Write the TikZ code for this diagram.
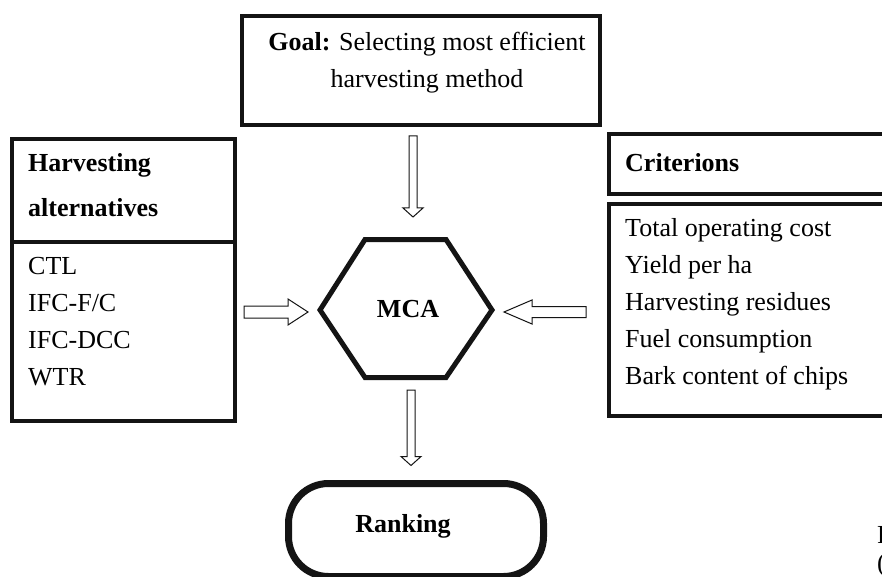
\documentclass[tikz,border=0pt]{standalone}
\usepackage{fontspec}
\setmainfont{Liberation Serif}
\usetikzlibrary{calc, positioning}
\definecolor{ink}{HTML}{141414}

% hollow block arrows: start, tip, shaft half width, head half width, head offset
\newcommand{\varrow}[5]{%
  \draw[blockarrow] ($(#1)+(-#3,0)$) -- ($(#2)+(-#3,#5)$) -- ($(#2)+(-#4,#5)$) -- (#2)
    -- ($(#2)+(#4,#5)$) -- ($(#2)+(#3,#5)$) -- ($(#1)+(#3,0)$) -- cycle;}
\newcommand{\harrow}[5]{%
  \draw[blockarrow] ($(#1)+(0,-#3)$) -- ($(#2)+(#5,-#3)$) -- ($(#2)+(#5,-#4)$) -- (#2)
    -- ($(#2)+(#5,#4)$) -- ($(#2)+(#5,#3)$) -- ($(#1)+(0,#3)$) -- cycle;}

\begin{document}
\begin{tikzpicture}[x=1pt, y=-1pt,
  panel/.style={draw=ink, line width=4pt, inner sep=0pt},
  txt/.style={font=\fontsize{26}{37}\selectfont, inner sep=0pt, align=left},
  hd/.style={txt, font=\fontsize{26}{37}\selectfont\bfseries},
  blockarrow/.style={draw=ink, line width=1pt, fill=white, line join=miter}]

% Background
\useasboundingbox (0,0) rectangle (882,577);
\clip (0,0) rectangle (882,577);
\fill[white] (0,0) rectangle (882,577);

% === Goal ===
\node[panel, minimum width=358pt, minimum height=109pt] (goal) at (421,70.5) {};
\node[txt, align=center] (goaltxt) at (427,63)
  {\textbf{Goal:} Selecting most efficient\\harvesting method};

% === Left: alternatives ===
\node[panel, minimum width=223pt, minimum height=103pt] (altHead) at (123.5,190.5) {};
\node[panel, minimum width=223pt, minimum height=179pt] (altList) at (123.5,331.5) {};
\node[hd, font=\fontsize{26}{45}\selectfont\bfseries, anchor=west] (altHeadTxt) at (28,185)
  {Harvesting\\alternatives};
\node[txt, anchor=west] (altListTxt) at (28,321.5)
  {CTL\\IFC-F/C\\IFC-DCC\\WTR};

% === Right: criteria ===
\node[panel, minimum width=291pt, minimum height=60pt] (critHead) at (754.5,164) {};
\node[panel, minimum width=291pt, minimum height=212pt] (critList) at (754.5,310) {};
\node[hd, anchor=west] (critHeadTxt) at (625,163) {Criterions};
\node[txt, anchor=west] (critListTxt) at (625,304.5)
  {Total operating cost\\Yield per ha\\Harvesting residues\\Fuel consumption\\Bark content of chips};

% === Centre: MCA ===
\coordinate (hexL) at (320,310);
\coordinate (hexTL) at (365,239.5);
\coordinate (hexTR) at (446,239.5);
\coordinate (hexR) at (492,310);
\coordinate (hexBR) at (446,377.5);
\coordinate (hexBL) at (365,377.5);
\coordinate (hexT) at (406,239.5);
\coordinate (hexB) at (406,377.5);
\draw[draw=ink, line width=5pt, line join=miter]
  (hexL) -- (hexTL) -- (hexTR) -- (hexR) -- (hexBR) -- (hexBL) -- cycle;
\node[hd] (mca) at (408,309.5) {MCA};

% === Ranking ===
\node[draw=ink, line width=7pt, rounded corners=40pt, minimum width=255pt,
  minimum height=93pt, inner sep=0pt] (rank) at (416,530) {};
\node[hd] (rankTxt) at (403,526) {Ranking};

% Arrows
\coordinate (a1s) at ($(goal.south)+(-8,9)$);
\coordinate (a1t) at ($(hexT)+(7,-22.5)$);
\varrow{a1s}{a1t}{4}{10}{-9}
\coordinate (a2s) at ($(hexB)+(5,12.5)$);
\coordinate (a2t) at ($(rank.north)+(-5,-14.5)$);
\varrow{a2s}{a2t}{4}{10}{-9}
\coordinate (a3s) at ($(altList.east |- hexL)+(7,2)$);
\coordinate (a3t) at ($(hexL)+(-12,2)$);
\harrow{a3s}{a3t}{6}{13}{-20}
\coordinate (a4s) at ($(critList.west |- hexR)+(-21,2)$);
\coordinate (a4t) at ($(hexR)+(12,2)$);
\harrow{a4s}{a4t}{5.5}{12}{28}

% cut-off text at the right edge
\node[txt, anchor=base west] (frag1) at (877,543) {F};
\node[txt, anchor=base west] (frag2) at (877,571) {(};

\end{tikzpicture}
\end{document}
